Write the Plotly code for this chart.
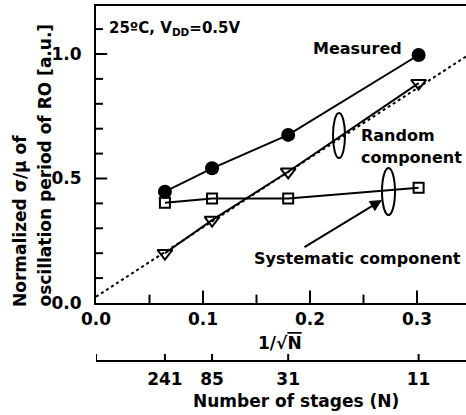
import numpy as np
import plotly.graph_objects as go

# ---- data ----
stages = [241, 85, 31, 11]
measured = [0.447, 0.541, 0.675, 0.996]
random_comp = [0.200, 0.333, 0.527, 0.883]
systematic = [0.403, 0.420, 0.420, 0.463]
fit_x = [0.0, 0.3458]
fit_y = [0.025, 0.990]
x_ticks = [0.0, 0.1, 0.2, 0.3]
x_minor = [0.05, 0.15, 0.25]
y_ticks = [0.0, 0.5, 1.0]
y_minor = [0.1, 0.2, 0.3, 0.4, 0.6, 0.7, 0.8, 0.9, 1.1]

inv_sqrt = [float(1 / np.sqrt(n)) for n in stages]

W, H = 466, 415
ML, MR, MT, MB = 96, 0, 6, 54
FONT = "DejaVu Sans"


def px(x):
    return (x - ML) / (W - ML - MR)


def py(y):
    return (H - MB - y) / (H - MT - MB)


Y_DOMAIN_BOTTOM = py(303)
xr = [0, (W - ML - MR) / 1070]
yr = [0, (303 - 6) / 249]

fig = go.Figure()

# inside tick marks, drawn as line markers clipped by the plot area (half shows)
def tick_trace(xs, ys, symbol, size):
    return go.Scatter(x=xs, y=ys, mode="markers", cliponaxis=True,
                      marker=dict(symbol=symbol, size=size, color="black",
                                  line=dict(width=2, color="black")),
                      hoverinfo="skip", showlegend=False)


fig.add_trace(tick_trace(x_ticks[1:], [yr[0]] * 3, "line-ns", 18))
fig.add_trace(tick_trace(x_minor, [yr[0]] * 3, "line-ns", 12))
fig.add_trace(tick_trace([xr[0]] * 2, y_ticks[1:], "line-ew", 16))
fig.add_trace(tick_trace([xr[0]] * len(y_minor), y_minor, "line-ew", 10))

fig.add_trace(go.Scatter(x=fit_x, y=fit_y, mode="lines",
                         line=dict(color="black", width=2, dash="dot"),
                         hoverinfo="skip", showlegend=False))
fig.add_trace(go.Scatter(x=inv_sqrt, y=measured, mode="lines+markers",
                         line=dict(color="black", width=2),
                         marker=dict(symbol="circle", size=14, color="black"),
                         showlegend=False))
fig.add_trace(go.Scatter(x=inv_sqrt, y=random_comp, mode="lines+markers",
                         line=dict(color="black", width=2),
                         marker=dict(symbol="triangle-down-open", size=13, color="black",
                                     line=dict(width=2)),
                         showlegend=False))
fig.add_trace(go.Scatter(x=inv_sqrt, y=systematic, mode="lines+markers",
                         line=dict(color="black", width=2),
                         marker=dict(symbol="square-open", size=10, color="black",
                                     line=dict(width=2)),
                         showlegend=False))
# invisible trace so the secondary (N) axis is drawn
fig.add_trace(go.Scatter(x=inv_sqrt, y=measured, xaxis="x2", mode="markers",
                         marker=dict(opacity=0), hoverinfo="skip", showlegend=False))

tickfont = dict(family=FONT, size=17, color="black", weight="bold")

fig.update_layout(
    template="none",
    width=W, height=H,
    margin=dict(l=ML, r=MR, t=MT, b=MB),
    plot_bgcolor="white", paper_bgcolor="white",
    font=dict(family=FONT, color="black"),
    xaxis=dict(range=xr, tickmode="array", tickvals=x_ticks,
               ticktext=[f"{v:.1f}" for v in x_ticks], ticks="",
               showline=True, linewidth=2, linecolor="black", mirror=True,
               showgrid=False, zeroline=False, tickfont=tickfont,
               anchor="y"),
    yaxis=dict(range=yr, domain=[Y_DOMAIN_BOTTOM, 1],
               tickmode="array", tickvals=y_ticks, ticktext=[f"{v:.1f}" for v in y_ticks],
               ticks="", ticklabelstandoff=9,
               showline=True, linewidth=2, linecolor="black",
               showgrid=False, zeroline=False, tickfont=tickfont),
    xaxis2=dict(range=xr, overlaying="x", anchor="free", position=0, side="bottom",
                tickmode="array", tickvals=[0.0] + inv_sqrt,
                ticktext=[""] + [str(n) for n in stages], ticks="",
                ticklabelstandoff=3,
                showline=True, linewidth=2, linecolor="black",
                showgrid=False, zeroline=False, tickfont=tickfont),
)

# ticks of the N axis
tick_line = dict(color="black", width=2)
for v in [0.0] + inv_sqrt:
    fig.add_shape(type="line", xref="x2", yref="paper", x0=v, x1=v,
                  ysizemode="pixel", yanchor=0, y0=0, y1=7, line=tick_line)

ann_font = dict(family=FONT, size=16, color="black", weight="bold")
big_font = dict(family=FONT, size=17, color="black", weight="bold")
annotations = [
    dict(text="25ºC, V<sub>DD</sub>=0.5V", x=px(107), y=py(28), xanchor="left",
         yanchor="middle", font=dict(family=FONT, size=15, color="black", weight="bold")),
    dict(text="Measured", x=px(357), y=py(49), xanchor="center", yanchor="middle", font=ann_font),
    dict(text="Random", x=px(359), y=py(136), xanchor="left", yanchor="middle", font=ann_font),
    dict(text="component", x=px(359), y=py(157), xanchor="left", yanchor="middle", font=ann_font),
    dict(text="Systematic component", x=px(357), y=py(258), xanchor="center", yanchor="middle",
         font=ann_font),
    dict(text="1/√<span style='text-decoration:overline'>N</span>", x=px(280), y=py(343),
         xanchor="center", yanchor="middle", font=big_font),
    dict(text="Number of stages (N)", x=px(296), y=py(401), xanchor="center", yanchor="middle",
         font=big_font),
    dict(text="Normalized σ/μ of", x=px(20), y=py(309), xanchor="center", yanchor="bottom",
         textangle=-90, font=big_font),
    dict(text="oscillation period of RO [a.u.]", x=px(44), y=py(309), xanchor="center",
         yanchor="bottom", textangle=-90, font=big_font),
]
for a in annotations:
    a.update(xref="paper", yref="paper", showarrow=False)
    fig.add_annotation(**a)

# arrow to systematic component
fig.add_annotation(x=px(382), y=py(200), xref="paper", yref="paper", text="",
                   showarrow=True, ax=303 - 382, ay=248 - 200, axref="pixel", ayref="pixel",
                   arrowhead=2, arrowsize=1.2, arrowwidth=2, arrowcolor="black")

# loops marking each component
for (x0, x1, y0, y1) in [(333, 345, 113, 158), (382, 395, 168, 215)]:
    fig.add_shape(type="circle", xref="paper", yref="paper",
                  x0=px(x0), x1=px(x1), y0=py(y1), y1=py(y0),
                  line=dict(color="black", width=2))

fig.write_html("out.html")
